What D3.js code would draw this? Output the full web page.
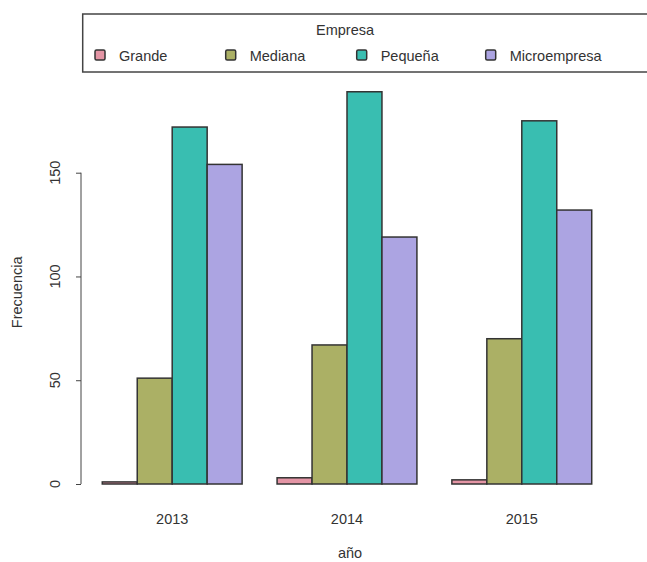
<!DOCTYPE html>
<html><head><meta charset="utf-8">
<script src="https://d3js.org/d3.v7.min.js"></script>
<style>body{margin:0;background:#fff}</style>
</head><body>
<script>
const years = ["2013","2014","2015"];
const categories = ["Grande","Mediana","Pequeña","Microempresa"];
const grande = [1, 3, 2];
const mediana = [51, 67, 70];
const pequena = [172, 189, 175];
const micro = [154, 119, 132];
const colors = ["#E495A5","#ABB065","#39BEB1","#ACA4E2"];
const yTicks = [0, 50, 100, 150];
const series = [grande, mediana, pequena, micro];

const W = 647, H = 562;
const font = "'Liberation Sans', Arial, sans-serif";
const svg = d3.select("body").append("svg").attr("width", W).attr("height", H)
  .style("font-family", font);

const x0 = d3.scaleBand().domain(years).range([84.8, 609.2]).paddingInner(0.2).paddingOuter(0.1);
const x1 = d3.scaleBand().domain(categories).range([0, x0.bandwidth()]).padding(0);
const y = d3.scaleLinear().domain([0, 150]).range([484, 172.7]);

// bars
years.forEach((yr, i) => {
  categories.forEach((c, j) => {
    const v = series[j][i];
    svg.append("rect")
      .attr("x", x0(yr) + x1(c))
      .attr("y", y(v))
      .attr("width", x1.bandwidth())
      .attr("height", y(0) - y(v))
      .attr("fill", colors[j])
      .attr("stroke", "#333")
      .attr("stroke-width", 1.5);
  });
});

// y axis
const yAxis = d3.axisLeft(y).tickValues(yTicks).tickSize(5).tickFormat(d3.format("d"));
const ga = svg.append("g").attr("transform", "translate(81,0)").call(yAxis);
ga.select(".domain").attr("stroke", "#444").attr("d", `M-0,${y(0)}V${y(150)}`);
ga.selectAll(".tick line").attr("stroke", "#444");
ga.selectAll(".tick text").remove();
yTicks.forEach(t => {
  svg.append("text").attr("transform", `translate(60,${y(t)}) rotate(-90)`)
    .attr("text-anchor", "middle").attr("font-size", 14.5).attr("fill", "#333").text(t);
});
svg.append("text").attr("transform", `translate(22,${(y(0)+y(150))/2 - 36}) rotate(-90)`)
  .attr("text-anchor", "middle").attr("font-size", 14.5).attr("fill", "#333").text("Frecuencia");

// x labels
years.forEach(yr => {
  svg.append("text").attr("x", x0(yr) + x0.bandwidth()/2).attr("y", 524)
    .attr("text-anchor", "middle").attr("font-size", 14.5).attr("fill", "#333").text(yr);
});
svg.append("text").attr("x", 350).attr("y", 558).attr("text-anchor", "middle")
  .attr("font-size", 14.5).attr("fill", "#333").text("año");

// legend
svg.append("rect").attr("x", 82.7).attr("y", 14).attr("width", 600).attr("height", 58)
  .attr("fill", "none").attr("stroke", "#444").attr("stroke-width", 1.5);
svg.append("text").attr("x", 345).attr("y", 35).attr("text-anchor", "middle")
  .attr("font-size", 14.5).attr("fill", "#333").text("Empresa");
const legX = [100, 230.7, 361.7, 490.7];
categories.forEach((c, j) => {
  svg.append("rect").attr("x", legX[j] - 5).attr("y", 50).attr("width", 10).attr("height", 10)
    .attr("rx", 1.5).attr("fill", colors[j]).attr("stroke", "#333").attr("stroke-width", 1.5);
  svg.append("text").attr("x", legX[j] + 19).attr("y", 61).attr("font-size", 14.5)
    .attr("fill", "#333").text(c);
});
</script>
</body></html>
